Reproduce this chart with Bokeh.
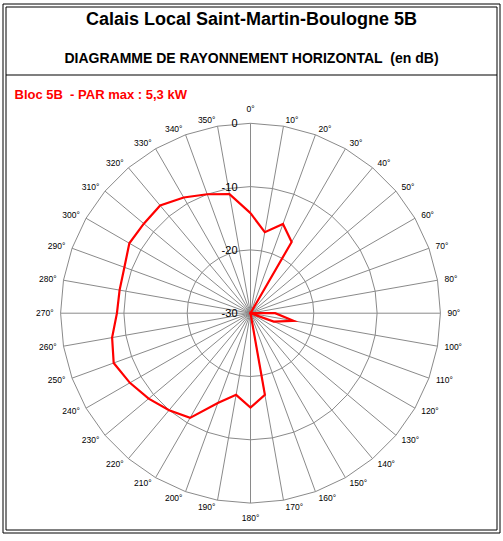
import numpy as np
from bokeh.plotting import figure
from bokeh.models import Range1d, Label
from bokeh.embed import file_html
from bokeh.resources import INLINE
from bokeh.core.properties import value

# ---------------- data ----------------
title_text = "Calais Local Saint-Martin-Boulogne 5B"
subtitle_text = "DIAGRAMME DE RAYONNEMENT HORIZONTAL\u00a0\u00a0(en dB)"
series_label = "Bloc 5B\u00a0\u00a0- PAR max : 5,3 kW"

angles_deg = list(range(0, 360, 10))
angle_labels = [f"{a}°" for a in angles_deg]
gain_db = [-14.2, -17.0, -15.0, -17.0, -30.0, -30.0, -30.0, -30.0, -30.0,
           -26.1, -23.1, -26.1, -30.0, -30.0, -30.0, -30.0, -30.0, -16.9,
           -15.1, -16.9, -14.9, -10.9, -10.0, -9.0, -8.0, -7.0, -7.8,
           -8.9, -9.0, -8.8, -7.9, -8.0, -7.8, -8.9, -10.0, -10.9]
ring_levels = [-30, -20, -10, 0]
ring_labels = ["-30", "-20", "-10", "0"]
R_MIN, R_MAX = -30, 0

# ---------------- layout helpers (figure pixels -> data units) ----------------
CX, CY = 250.0, 312.7      # centre of the polar area
S = 6.33                   # pixels per dB
OFF = 0                    # figure origin in reference pixels

def X(px):
    return (px - CX) / S

def Y(py):
    return (CY - py) / S

W, H = 501, 535
p = figure(width=W, height=H, output_backend="svg", toolbar_location=None,
           x_range=Range1d(X(OFF), X(OFF + W)), y_range=Range1d(Y(OFF + H), Y(OFF)),
           x_axis_location=None, y_axis_location=None, min_border=0,
           outline_line_color=None, background_fill_color="white",
           border_fill_color="white")
p.grid.visible = False

th = np.radians(np.array(angles_deg, dtype=float))
RR = R_MAX - R_MIN
GRID = "#8a8a8a"

# spokes
p.segment(x0=np.zeros(len(th)), y0=np.zeros(len(th)),
          x1=RR * np.sin(th), y1=RR * np.cos(th),
          line_color=GRID, line_width=1)

# polygon rings (radar style)
xs, ys = [], []
for lv in ring_levels[1:]:
    r = lv - R_MIN
    xs.append(list(r * np.sin(th)) + [r * np.sin(th[0])])
    ys.append(list(r * np.cos(th)) + [r * np.cos(th[0])])
p.multi_line(xs=xs, ys=ys, line_color=GRID, line_width=1)

# data line (closed)
rg = np.array(gain_db) - R_MIN
lx = list(rg * np.sin(th)) + [rg[0] * np.sin(th[0])]
ly = list(rg * np.cos(th)) + [rg[0] * np.cos(th[0])]
p.line(lx, ly, line_color="#ff0000", line_width=2.2, line_join="miter")

# ring value labels
p.text(x=[X(237)] * len(ring_levels), y=[lv - R_MIN for lv in ring_levels],
       text=ring_labels, text_align="right", text_baseline="middle",
       text_font=value("Liberation Sans"), text_font_size=value("11px"),
       text_color="black")

# angle labels (placed outside the outer ring vertex, Excel-radar style)
lab_x, lab_y = [], []
for a, t in zip(angles_deg, angle_labels):
    w = (4.73 * (len(t) - 1) + 3.4)
    ang = np.radians(a)
    s, c = np.sin(ang), np.cos(ang)
    if abs(s) < 1e-9:
        s = 0.0
    if abs(c) < 1e-9:
        c = 0.0
    vx, vy = RR * S * s, RR * S * c          # outer vertex, pixels (y up)
    dx = np.sign(s) * (w / 2 + 1 + 6 * abs(s))
    dy = 6.6 * c + (np.sign(c) * 8.0 if abs(s) == 0 else 0.0)
    lab_x.append((vx + dx) / S)
    lab_y.append((vy + dy) / S)
p.text(x=lab_x, y=lab_y, text=angle_labels, text_align="center",
       text_baseline="middle", text_font=value("Liberation Sans"),
       text_font_size=value("8.5px"), text_color="black")

# frame (double border) and header separator
def rect(l, t, r, b):
    return [X(l), X(r), X(r), X(l), X(l)], [Y(t), Y(t), Y(b), Y(b), Y(t)]

ox, oy = rect(2.5, 3.5, 499.5, 532.5)
ix, iy = rect(5.5, 6.5, 496.5, 529.5)
p.line(ox, oy, line_color="black", line_width=1)
p.line(ix, iy, line_color="black", line_width=1)
p.line([X(5.5), X(496.5)], [Y(74.5), Y(74.5)], line_color="black", line_width=1.2)

# texts
p.add_layout(Label(x=X(251), y=Y(18), text=title_text, text_align="center",
                   text_baseline="middle", text_font="Liberation Sans",
                   text_font_size="18px", text_font_style="bold",
                   text_color="black"))
p.add_layout(Label(x=X(251), y=Y(57.5), text=subtitle_text, text_align="center",
                   text_baseline="middle", text_font="Liberation Sans",
                   text_font_size="14px", text_font_style="bold",
                   text_color="black"))
p.add_layout(Label(x=X(14), y=Y(93.5), text=series_label, text_align="left",
                   text_baseline="middle", text_font="Liberation Sans",
                   text_font_size="13px", text_font_style="bold",
                   text_color="#ff0000"))

open("out.html", "w").write(file_html(p, INLINE))
